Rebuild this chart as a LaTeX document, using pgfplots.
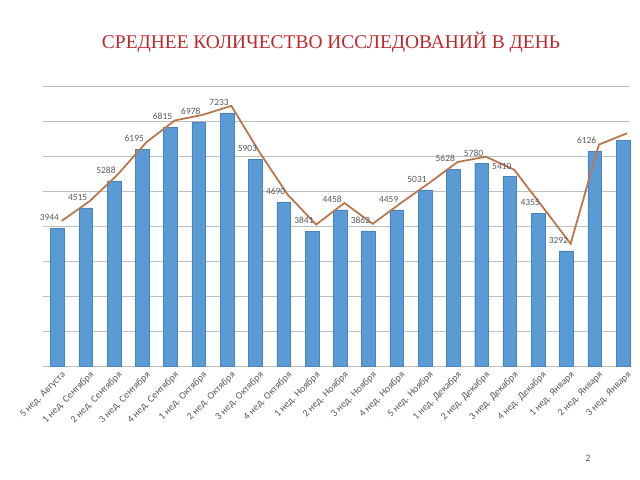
\documentclass[border=0pt]{standalone}
\usepackage{pgfplots}
\pgfplotsset{compat=1.18}
\usepackage{fontspec}
\setmainfont{Carlito}
\newfontfamily\titlefont{Liberation Serif}
\definecolor{barblue}{HTML}{5B9BD5}
\definecolor{baredge}{HTML}{4A84BE}
\definecolor{linebrown}{HTML}{B7784E}
\definecolor{titlered}{HTML}{C0282D}
\definecolor{txtgray}{HTML}{595959}
\definecolor{gridgray}{HTML}{BFBFBF}
\begin{document}
\begin{tikzpicture}[x=1bp,y=1bp]
\path[use as bounding box] (0,0) rectangle (640,480);
\node[font=\titlefont\fontsize{19.5}{22}\selectfont, text=titlered] at (331,438) {СРЕДНЕЕ КОЛИЧЕСТВО ИССЛЕДОВАНИЙ В ДЕНЬ};
\node[font=\fontsize{10}{12}\selectfont, text=txtgray] at (588,22) {2};
\begin{axis}[
  at={(43bp,114bp)}, anchor=south west,
  scale only axis, width=587bp, height=280bp,
  xmin=-0.51, xmax=20.25, ymin=0, ymax=8000,
  axis x line*=bottom, axis y line*=left,
  x axis line style={gridgray}, y axis line style={draw=none},
  ytick={0,1000,...,8000}, yticklabels={},
  ymajorgrids, grid style={gridgray, line width=0.8pt},
  xtick={0,...,20}, major tick length=0pt,
  xticklabels={5 нед. Августа,1 нед. Сентября,2 нед. Сентября,3 нед. Сентября,4 нед. Сентября,1 нед. Октября,2 нед. Октября,3 нед. Октября,4 нед. Октября,1 нед. Ноября,2 нед. Ноября,3 нед. Ноября,4 нед. Ноября,5 нед. Ноября,1 нед. Декабря,2 нед. Декабря,3 нед. Декабря,4 нед. Декабря,1 нед. Января,2 нед. Января,3 нед. Января},
  x tick label style={rotate=45, anchor=east, font=\fontsize{10}{11}\selectfont, text=txtgray, xshift=3bp, yshift=-10bp},
  clip=false,
]
\addplot[ybar, bar width=13.7bp, bar shift=0pt, fill=barblue, draw=baredge,
  nodes near coords,
  every node near coord/.append style={font=\fontsize{9.5}{10}\selectfont, text=txtgray, xshift=-8bp, yshift=4bp},
  point meta=explicit symbolic]
coordinates {
(0,3944)[3944] (1,4515)[4515] (2,5288)[5288] (3,6195)[6195] (4,6815)[6815]
(5,6978)[6978] (6,7233)[7233] (7,5903)[5903] (8,4690)[4690] (9,3841)[3841]
(10,4458)[4458] (11,3862)[3862] (12,4459)[4459] (13,5031)[5031] (14,5628)[5628]
(15,5780)[5780] (16,5410)[5410] (17,4355)[4355] (18,3292)[3292] (19,6126)[6126]
(20,6450)[{}]
};
\addplot[linebrown, line width=1.8pt, mark=none] coordinates {
(0.15,4144) (1.15,4715) (2.15,5488) (3.15,6395) (4.15,7015)
(5.15,7178) (6.15,7433) (7.15,6103) (8.15,4890) (9.15,4041)
(10.15,4658) (11.15,4062) (12.15,4659) (13.15,5231) (14.15,5828)
(15.15,5980) (16.15,5610) (17.15,4555) (18.15,3492) (19.15,6326)
(20.15,6650)
};
\end{axis}
\end{tikzpicture}
\end{document}
